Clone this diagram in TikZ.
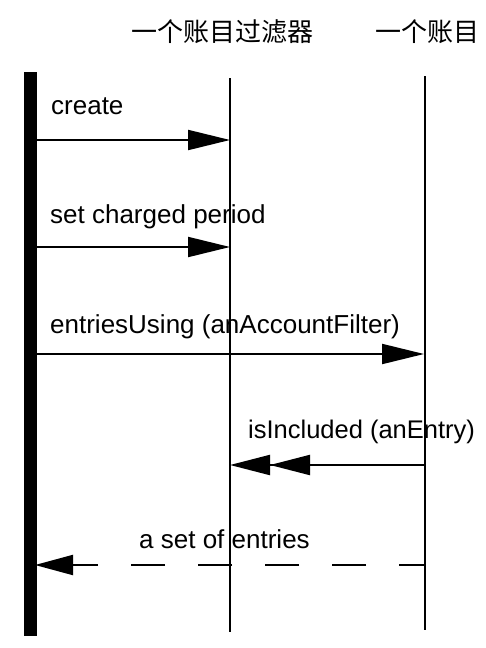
\documentclass[tikz,border=0pt]{standalone}
\usepackage{fontspec}
\setmainfont{Liberation Sans}
\newfontfamily\cjk{Noto Sans CJK SC}
\usetikzlibrary{arrows.meta}

\begin{document}
\begin{tikzpicture}[x=1pt, y=-1pt,
        head/.style={font=\cjk\fontsize{26}{30}\selectfont, inner sep=0pt},
        msglabel/.style={font=\fontsize{26}{30}\selectfont, anchor=base west, inner sep=0pt},
        lifeline/.style={line width=2.5pt},
        call/.style={line width=2pt, -{Triangle[length=42pt,width=20pt]}},
        reply/.style={line width=2pt, dash pattern=on 34pt off 33pt, dash phase=9pt,
            -{Triangle[length=38pt,width=20pt]}}]
        \useasboundingbox (0,0) rectangle (486,648);
        % heads of the lifelines
        \node[head] (filter head)  at (222,32) {一个账目过滤器};
        \node[head] (account head) at (427,32) {一个账目};
        % client bar, filter and account lifelines
        \coordinate (client top) at (30.5,72);   \coordinate (client bottom) at (30.5,636);
        \coordinate (filter top) at (230,78);    \coordinate (filter bottom) at (230,632);
        \coordinate (account top) at (425,76);   \coordinate (account bottom) at (425,630);
        \draw[line width=13pt]   (client top) -- (client bottom);
        \draw[lifeline]          (filter top) -- (filter bottom);
        \draw[lifeline]          (account top) -- (account bottom);
        % create
        \node[msglabel] (create) at (51,114) {create};
        \coordinate (c1) at (37,140);  \coordinate (f1) at (230,140);
        \draw[call] (c1) -- (f1);
        % set charged period
        \node[msglabel] (set period) at (50,223) {set charged period};
        \coordinate (c2) at (37,247);  \coordinate (f2) at (230,247);
        \draw[call] (c2) -- (f2);
        % entries using
        \node[msglabel] (entries using) at (50,333) {entriesUsing (anAccountFilter)};
        \coordinate (c3) at (37,354);  \coordinate (a3) at (424,354);
        \draw[call] (c3) -- (a3);
        % is included
        \node[msglabel, font=\fontsize{25.5}{30}\selectfont] (is included) at (248,438) {isIncluded (anEntry)};
        \coordinate (a4) at (425,465); \coordinate (f4) at (230,465);
        \draw[line width=2pt, -{Triangle[length=40pt,width=20pt] Triangle[length=40pt,width=20pt]}] (a4) -- (f4);
        % set of entries back to the client
        \node[msglabel] (set of entries) at (139,548) {a set of entries};
        \coordinate (a5) at (424,565); \coordinate (c5) at (35,565);
        \draw[reply] (a5) -- (c5);
    \end{tikzpicture}
\end{document}
